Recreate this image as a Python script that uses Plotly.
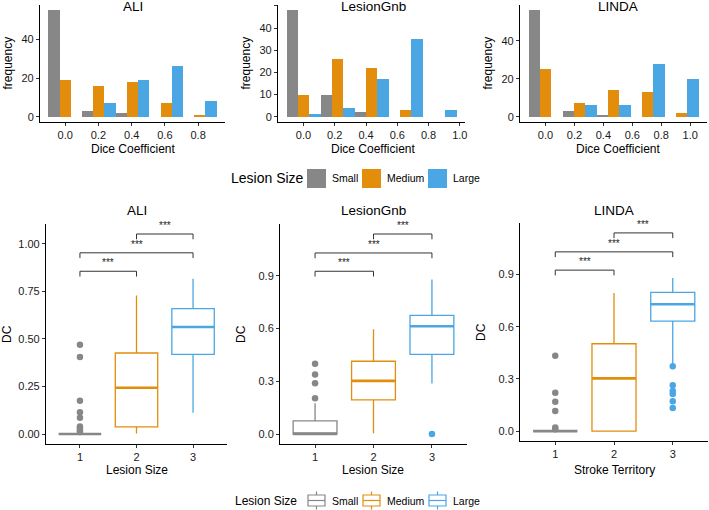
import plotly.graph_objects as go

W, H = 709, 510
FONTE = "Liberation Sans, Arial, sans-serif"

grupos = ["Small", "Medium", "Large"]
cores = ["#878787", "#E38D0C", "#4BA6E4"]

#
#   histogramas: centro das classes e contagens por tamanho de lesão
#
ali_bins = [0.0, 0.2025, 0.405, 0.6075, 0.81]
ali_small = [55, 3, 2, 0, 0]
ali_medium = [19, 16, 18, 7, 1]
ali_large = [0, 7, 19, 26, 8]

gnb_bins = [0.0, 0.2175, 0.435, 0.6525, 0.87]
gnb_small = [48, 10, 2, 0, 0]
gnb_medium = [10, 26, 22, 3, 0]
gnb_large = [1, 4, 17, 35, 3]

linda_bins = [0.0, 0.235, 0.47, 0.705, 0.94]
linda_small = [56, 3, 1, 0, 0]
linda_medium = [25, 7, 14, 13, 2]
linda_large = [0, 6, 6, 28, 20]

hist_xticks = [[0.0, 0.2, 0.4, 0.6, 0.8], [0.0, 0.2, 0.4, 0.6, 0.8, 1.0], [0.0, 0.2, 0.4, 0.6, 0.8, 1.0]]
hist_yticks = [[0, 20, 40], [0, 10, 20, 30, 40, 50], [0, 20, 40]]

#
#   boxplots: estatísticas (Small, Medium, Large)
#
ali_q1 = [0.0, 0.037, 0.419]
ali_med = [0.0, 0.243, 0.563]
ali_q3 = [0.0, 0.426, 0.659]
ali_lo = [0.0, 0.003, 0.112]
ali_hi = [0.0, 0.729, 0.817]
ali_out = [[0.47, 0.405, 0.175, 0.115, 0.085, 0.04, 0.03, 0.02, 0.01], [], []]
ali_sig = [0.856, 0.953, 1.052]

gnb_q1 = [0.0, 0.194, 0.453]
gnb_med = [0.0, 0.302, 0.613]
gnb_q3 = [0.075, 0.414, 0.675]
gnb_lo = [0.0, 0.004, 0.287]
gnb_hi = [0.175, 0.596, 0.879]
gnb_out = [[0.204, 0.289, 0.338, 0.40], [], [0.0]]
gnb_sig = [0.926, 1.03, 1.138]

linda_q1 = [0.0, 0.0, 0.632]
linda_med = [0.0, 0.303, 0.729]
linda_q3 = [0.0, 0.502, 0.797]
linda_lo = [0.0, 0.0, 0.39]
linda_hi = [0.0, 0.794, 0.88]
linda_out = [[0.433, 0.22, 0.168, 0.115, 0.02, 0.01], [], [0.373, 0.264, 0.23, 0.213, 0.172, 0.132]]
linda_sig = [0.925, 1.03, 1.139]

pares = [(1, 2), (1, 3), (2, 3)]
posicoes = [1, 2, 3]
box_yticks = [[0, 0.25, 0.5, 0.75, 1.0], [0, 0.3, 0.6, 0.9], [0, 0.3, 0.6, 0.9]]
box_fmt = [".2f", ".1f", ".1f"]
box_xtitles = ["Lesion Size", "Lesion Size", "Stroke Territory"]
titulos = ["ALI", "LesionGnb", "LINDA"]


def px(x):
    return x / W


def py(y):
    return 1 - y / H


def texto(txt, x, y, tam, xanchor="center", angulo=0):
    # texto posicionado em pixels da figura
    return dict(text=txt, x=px(x), y=py(y), xref="paper", yref="paper", xanchor=xanchor,
                yanchor="middle", showarrow=False, textangle=angulo,
                font=dict(family=FONTE, size=tam, color="black"))


# domínios em pixels (esquerda, direita, topo, base)
dom_hist = [(40, 225, 5, 122), (278, 465, 5, 122), (520, 707, 5, 122)]
dom_box = [(46, 227, 224, 444), (280, 467, 224, 444), (520, 708, 223, 441)]
desloc_titulo = [0, 2, 4]

hists = [
    (ali_bins, [ali_small, ali_medium, ali_large]),
    (gnb_bins, [gnb_small, gnb_medium, gnb_large]),
    (linda_bins, [linda_small, linda_medium, linda_large]),
]
boxes = [
    (ali_q1, ali_med, ali_q3, ali_lo, ali_hi, ali_out, ali_sig),
    (gnb_q1, gnb_med, gnb_q3, gnb_lo, gnb_hi, gnb_out, gnb_sig),
    (linda_q1, linda_med, linda_q3, linda_lo, linda_hi, linda_out, linda_sig),
]

fig = go.Figure()
layout = {}
anots = []
shapes = []

eixo_base = dict(
    showline=True, linecolor="black", linewidth=1.1, ticks="outside", ticklen=3,
    tickcolor="#333333", tickwidth=1, showgrid=False, zeroline=False, automargin=False,
    tickfont=dict(family=FONTE, size=11, color="#1a1a1a"),
)

# linha de cima: histogramas
for i, (bins, contagens) in enumerate(hists):
    n = i + 1
    xa = "x" if n == 1 else "x%d" % n
    ya = "y" if n == 1 else "y%d" % n
    for g, c, vals in zip(grupos, cores, contagens):
        fig.add_trace(go.Bar(x=bins, y=vals, marker=dict(color=c, line=dict(width=0)),
                             name=g, xaxis=xa, yaxis=ya, showlegend=False))
    bw = bins[1] - bins[0]
    lo, hi = bins[0] - bw / 2, bins[-1] + bw / 2
    pad = 0.05 * (hi - lo)
    ymax = max(max(v) for v in contagens)
    l, r, t, b = dom_hist[i]
    layout["xaxis" if n == 1 else "xaxis%d" % n] = dict(
        eixo_base, domain=[px(l), px(r)], range=[lo - pad, hi + pad],
        tickvals=hist_xticks[i], tickformat=".1f", anchor=ya)
    layout["yaxis" if n == 1 else "yaxis%d" % n] = dict(
        eixo_base, domain=[py(b), py(t)], range=[-0.05 * ymax, 1.05 * ymax],
        tickvals=hist_yticks[i], anchor=xa)
    anots.append(texto(titulos[i], (l + r) / 2 + desloc_titulo[i], 7, 13.5))
    anots.append(texto("Dice Coefficient", (l + r) / 2 + desloc_titulo[i], 149, 12))
    anots.append(texto("frequency", l - 33, (t + b) / 2, 12, angulo=-90))

# linha de baixo: boxplots
for i, (q1, med, q3, lo, hi, outs, sig) in enumerate(boxes):
    n = i + 4
    xa, ya = "x%d" % n, "y%d" % n
    for k, g, c in zip(posicoes, grupos, cores):
        j = k - 1
        fig.add_trace(go.Box(
            x=[k], q1=[q1[j]], median=[med[j]], q3=[q3[j]], lowerfence=[lo[j]], upperfence=[hi[j]],
            width=0.75, whiskerwidth=0, boxpoints=False, fillcolor="white",
            line=dict(color=c, width=1.3), name=g, xaxis=xa, yaxis=ya, showlegend=False))
        fig.add_trace(go.Scatter(x=[k - 0.375, k + 0.375], y=[med[j], med[j]], mode="lines",
                                 line=dict(color=c, width=2.6), xaxis=xa, yaxis=ya,
                                 showlegend=False, hoverinfo="skip"))
        if outs[j]:
            fig.add_trace(go.Scatter(x=[k] * len(outs[j]), y=outs[j], mode="markers",
                                     marker=dict(color=c, size=6.5, line=dict(width=0)),
                                     xaxis=xa, yaxis=ya, showlegend=False))
    ytop = max(sig)
    span = ytop * 1.1
    tique = 0.024 * span
    for (a, b2), ys in zip(pares, sig):
        fig.add_trace(go.Scatter(x=[a, a, b2, b2], y=[ys - tique, ys, ys, ys - tique], mode="lines",
                                 line=dict(color="#333333", width=1), xaxis=xa, yaxis=ya,
                                 showlegend=False, hoverinfo="skip"))
        anots.append(dict(text="***", x=(a + b2) / 2, y=ys, xref=xa, yref=ya, yanchor="bottom",
                          xanchor="center", showarrow=False, yshift=1,
                          font=dict(family=FONTE, size=10, color="#222222")))
    l, r, t, b = dom_box[i]
    layout["xaxis%d" % n] = dict(eixo_base, domain=[px(l), px(r)], range=[0.4, 3.6],
                                 tickvals=posicoes, anchor=ya)
    layout["yaxis%d" % n] = dict(eixo_base, domain=[py(b), py(t)], range=[-0.05 * ytop, 1.05 * ytop],
                                 tickvals=box_yticks[i], tickformat=box_fmt[i], anchor=xa)
    anots.append(texto(titulos[i], (l + r) / 2, 210, 13.5))
    anots.append(texto(box_xtitles[i], (l + r) / 2, 470, 12))
    anots.append(texto("DC", l - 39, (t + b) / 2, 12, angulo=-90))

# legenda do meio (histogramas)
anots.append(texto("Lesion Size", 229, 178, 14, xanchor="left"))
for g, c, x0 in zip(grupos, cores, [307, 362, 428]):
    shapes.append(dict(type="rect", xref="paper", yref="paper", x0=px(x0), x1=px(x0 + 19),
                       y0=py(188), y1=py(169), fillcolor=c, line=dict(width=0)))
    anots.append(texto(g, x0 + 23, 178, 10.5, xanchor="left"))

# legenda de baixo (boxplots)
anots.append(texto("Lesion Size", 233, 501, 12, xanchor="left"))
for g, c, x0 in zip(grupos, cores, [308, 363, 429]):
    xm = x0 + 8.5
    shapes.append(dict(type="rect", xref="paper", yref="paper", x0=px(x0), x1=px(x0 + 17),
                       y0=py(506), y1=py(495), fillcolor="white", line=dict(color=c, width=1.2)))
    shapes.append(dict(type="line", xref="paper", yref="paper", x0=px(x0), x1=px(x0 + 17),
                       y0=py(500.5), y1=py(500.5), line=dict(color=c, width=1.2)))
    shapes.append(dict(type="line", xref="paper", yref="paper", x0=px(xm), x1=px(xm),
                       y0=py(495), y1=py(491.5), line=dict(color=c, width=1.2)))
    shapes.append(dict(type="line", xref="paper", yref="paper", x0=px(xm), x1=px(xm),
                       y0=py(506), y1=py(509.5), line=dict(color=c, width=1.2)))
    anots.append(texto(g, x0 + 22, 501, 10.5, xanchor="left"))

fig.update_layout(
    width=W, height=H, margin=dict(l=0, r=0, t=0, b=0, autoexpand=False),
    paper_bgcolor="white", plot_bgcolor="white",
    barmode="group", bargap=0, bargroupgap=0,
    annotations=anots, shapes=shapes, showlegend=False,
    font=dict(family=FONTE, color="black"),
    **layout,
)

# tira a margem padrão do <body> para a figura ocupar a janela toda
fig.write_html("out.html", config={"displayModeBar": False},
               post_script="document.body.style.margin='0';document.body.style.overflow='hidden';")
